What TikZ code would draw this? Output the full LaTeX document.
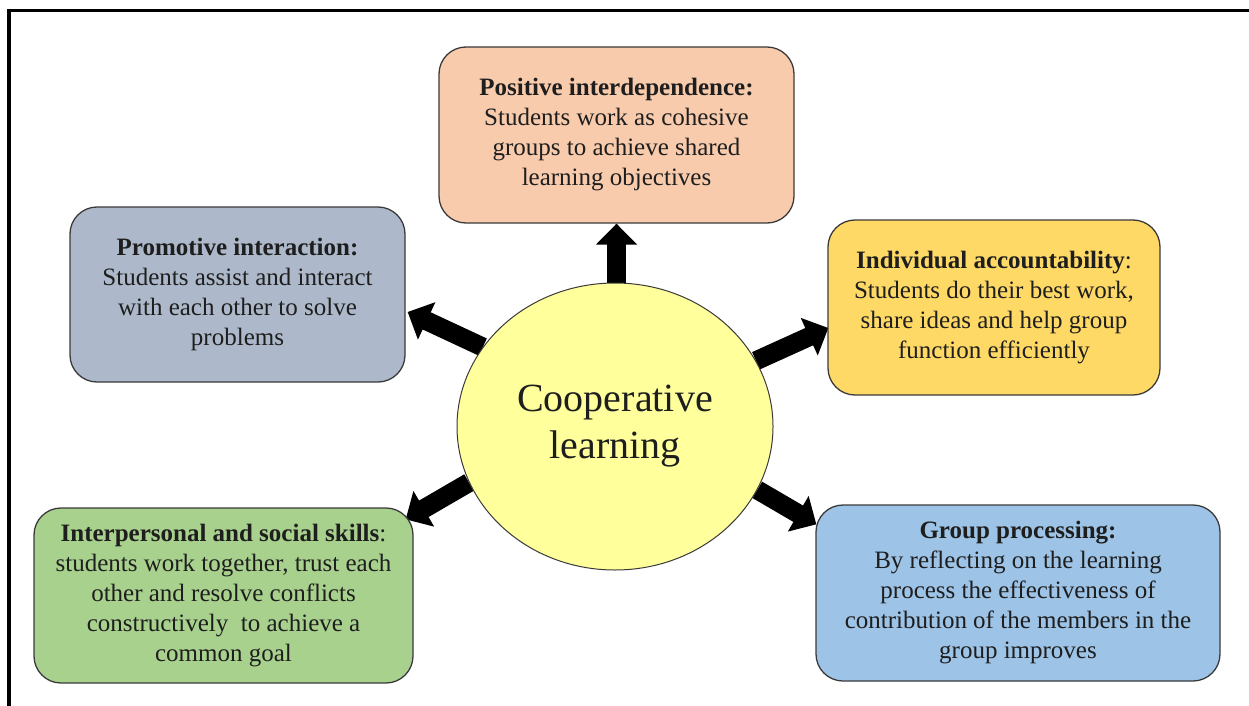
\documentclass[tikz,border=0pt]{standalone}
\usepackage{fontspec}
\setmainfont{Liberation Serif}
\usetikzlibrary{arrows.meta,calc,shapes.geometric,backgrounds}
\definecolor{peach}{HTML}{F8CBAD}
\definecolor{greyblue}{HTML}{ADB9CA}
\definecolor{gold}{HTML}{FFD966}
\definecolor{leaf}{HTML}{A9D18E}
\definecolor{skyblue}{HTML}{9DC3E6}
\definecolor{paleyellow}{HTML}{FFFF9C}
\definecolor{boxline}{HTML}{3A3A3A}
\definecolor{txt}{HTML}{1E1E1E}
\begin{document}
\begin{tikzpicture}[x=1pt,y=-1pt,
  box/.style={draw=boxline, line width=1.3pt, rounded corners=27pt, align=center,
    font=\fontsize{25}{30}\selectfont, text=txt, inner sep=0pt},
  blockarrow/.style={line width=19pt, draw=black, -{Triangle[width=40pt,length=21pt]}},
  frameline/.style={draw=black}]
\useasboundingbox (0,0) rectangle (1249,706);
\draw[frameline, line width=3.3pt] (7.4,10.7) -- (1249,10.7);
\draw[frameline, line width=3.7pt] (9.2,9) -- (9.2,706);

\node[box, fill=peach, minimum width=355pt, minimum height=176pt] (pd) at (616.5,135)
  {\textbf{Positive interdependence:}\\Students work as cohesive\\groups to achieve shared\\learning objectives};
\node[box, fill=greyblue, minimum width=335pt, minimum height=175pt] (pi) at (237.5,294.5)
  {\textbf{Promotive interaction:}\\Students assist and interact\\with each other to solve\\problems};
\node[box, fill=gold, minimum width=332pt, minimum height=175pt] (ia) at (994,307.5)
  {\textbf{Individual accountability}:\\Students do their best work,\\share ideas and help group\\function efficiently};
\node[box, fill=leaf, minimum width=379pt, minimum height=175pt] (is) at (223.5,595.5)
  {\textbf{Interpersonal and social skills}:\\students work together, trust each\\other and resolve conflicts\\constructively\ \ to achieve a\\common goal};
\node[box, fill=skyblue, minimum width=404pt, minimum height=176pt] (gp) at (1018,593)
  {\textbf{Group processing:}\\By reflecting on the learning\\process the effectiveness of\\contribution of the members in the\\group improves};
\node[ellipse, draw=boxline, line width=1pt, fill=paleyellow, minimum width=316pt, minimum height=287pt,
  inner sep=0pt, align=center, text=txt, font=\fontsize{40}{47}\selectfont] (c) at (615,426.5)
  {Cooperative\\learning};

\begin{scope}[on background layer]
  \draw[blockarrow] (pd.south |- c.north) -- (pd.south);
  \draw[blockarrow] (c.149) -- ($(pi.east)+(2,17.5)$);
  \draw[blockarrow] (c.25.7) -- ($(ia.west)+(1,20.5)$);
  \draw[blockarrow] (c.201.8) -- ($(is.north east)+(-8,12)$);
  \draw[blockarrow] (c.336.4) -- ($(gp.north west)+(1,20)$);
\end{scope}
\end{tikzpicture}
\end{document}
